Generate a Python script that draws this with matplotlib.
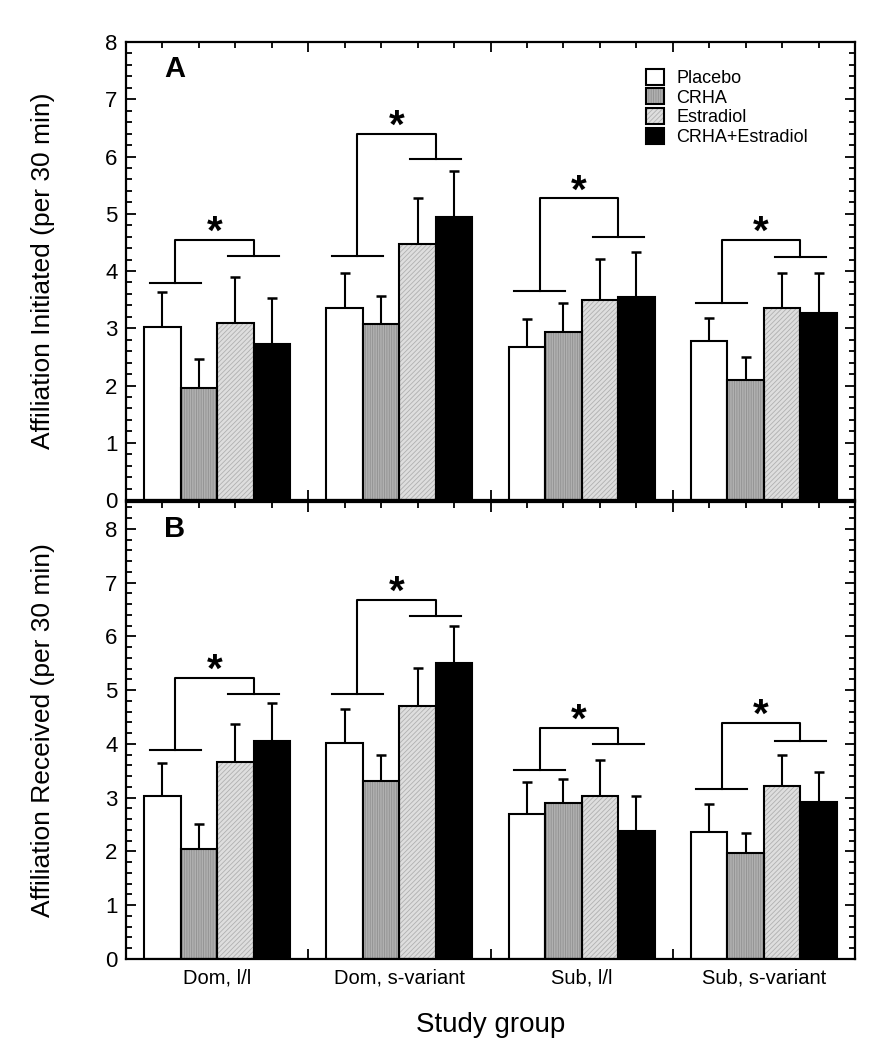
import numpy as np
import matplotlib
matplotlib.use("Agg")
import matplotlib.pyplot as plt
from matplotlib.patches import Patch
from matplotlib.legend_handler import HandlerTuple
from matplotlib.ticker import MultipleLocator

plt.rcParams['font.family'] = ['Liberation Sans', 'DejaVu Sans']
plt.rcParams['hatch.linewidth'] = 0.6

groups = ['Dom, l/l', 'Dom, s-variant', 'Sub, l/l', 'Sub, s-variant']
treatments = ['Placebo', 'CRHA', 'Estradiol', 'CRHA+Estradiol']

# panel A: affiliation initiated (mean, sem)
a_mean = {
    'Placebo':        [3.02, 3.35, 2.67, 2.77],
    'CRHA':           [1.96, 3.07, 2.93, 2.09],
    'Estradiol':      [3.09, 4.47, 3.49, 3.35],
    'CRHA+Estradiol': [2.73, 4.94, 3.54, 3.26],
}
a_sem = {
    'Placebo':        [0.61, 0.61, 0.49, 0.41],
    'CRHA':           [0.50, 0.49, 0.51, 0.41],
    'Estradiol':      [0.81, 0.80, 0.72, 0.61],
    'CRHA+Estradiol': [0.80, 0.80, 0.79, 0.70],
}
a_brk_left = [3.79, 4.26, 3.65, 3.44]
a_brk_right = [4.26, 5.95, 4.59, 4.24]
a_brk_top = [4.55, 6.40, 5.27, 4.55]

# panel B: affiliation received
b_mean = {
    'Placebo':        [3.03, 4.02, 2.70, 2.36],
    'CRHA':           [2.05, 3.31, 2.90, 1.97],
    'Estradiol':      [3.67, 4.71, 3.03, 3.22],
    'CRHA+Estradiol': [4.06, 5.51, 2.38, 2.92],
}
b_sem = {
    'Placebo':        [0.62, 0.63, 0.59, 0.52],
    'CRHA':           [0.46, 0.49, 0.45, 0.37],
    'Estradiol':      [0.70, 0.70, 0.67, 0.58],
    'CRHA+Estradiol': [0.70, 0.69, 0.65, 0.56],
}
b_brk_left = [3.89, 4.93, 3.52, 3.16]
b_brk_right = [4.93, 6.38, 4.00, 4.06]
b_brk_top = [5.23, 6.68, 4.30, 4.39]

# fill, hatch, hatch colour
styles = {
    'Placebo':        ('white', None, 'white'),
    'CRHA':           ('#b0b0b0', '|||||||', '#909090'),
    'Estradiol':      ('#dedede', '///////', '#b0b0b0'),
    'CRHA+Estradiol': ('black', None, 'black'),
}

W = 0.2
x0 = np.arange(len(groups))


def draw_panel(ax, means, sems, left, right, top, ymax, ylabel, letter):
    for k, t in enumerate(treatments):
        fc, hatch, hc = styles[t]
        xs = x0 + W * (k + 1)
        ax.bar(xs, means[t], W, color=fc, hatch=hatch, edgecolor=hc, linewidth=0, zorder=2)
        ax.bar(xs, means[t], W, facecolor='none', edgecolor='black', linewidth=1.5, zorder=3)
        err = np.array(sems[t])
        ax.errorbar(xs, means[t], yerr=[np.zeros_like(err), err], fmt='none', ecolor='black',
                    elinewidth=1.5, capsize=3.5, capthick=1.8, zorder=1)
    # significance brackets
    for i in range(len(groups)):
        lc, rc, hw = i + 0.27, i + 0.70, 0.14
        ax.plot([lc - hw, lc + hw], [left[i], left[i]], color='black', lw=1.5, zorder=4)
        ax.plot([rc - hw, rc + hw], [right[i], right[i]], color='black', lw=1.5, zorder=4)
        ax.plot([lc, lc, rc, rc], [left[i], top[i], top[i], right[i]], color='black', lw=1.5, zorder=4)
        ax.annotate('*', xy=(i + 0.485, top[i]), xytext=(0, -3), textcoords='offset points',
                    ha='center', va='baseline', fontsize=29, fontweight='bold')
    ax.set_xlim(0, 4)
    ax.set_ylim(0, ymax)
    ax.set_xticks(x0.tolist() + [4])
    ax.set_xticks([i + W * (k + 1) for i in x0 for k in range(4)], minor=True)
    ax.set_xticklabels([])
    ax.yaxis.set_major_locator(MultipleLocator(1))
    ax.yaxis.set_minor_locator(MultipleLocator(0.2))
    ax.tick_params(which='both', direction='in', top=True, right=True, width=1.3)
    ax.tick_params(which='major', length=7, labelsize=16, pad=6)
    ax.tick_params(which='minor', length=4)
    for s in ax.spines.values():
        s.set_linewidth(1.6)
    ax.set_ylabel(ylabel, fontsize=19)
    ax.yaxis.set_label_coords(-0.098, 0.5)
    ax.text(0.052, 0.94, letter, transform=ax.transAxes, fontsize=21, fontweight='bold',
            ha='left', va='center')


fig = plt.figure(figsize=(8.9, 10.5), dpi=100)
ax_a = fig.add_axes([0.1416, 0.5238, 0.8191, 0.4362])
ax_b = fig.add_axes([0.1416, 0.0867, 0.8191, 0.4352])

draw_panel(ax_a, a_mean, a_sem, a_brk_left, a_brk_right, a_brk_top, 8,
           'Affiliation Initiated (per 30 min)', 'A')
draw_panel(ax_b, b_mean, b_sem, b_brk_left, b_brk_right, b_brk_top, 8.5,
           'Affiliation Received (per 30 min)', 'B')
ax_b.set_yticks(range(0, 9))

for i, g in enumerate(groups):
    ax_b.text(i + 0.5, -0.042, g, transform=ax_b.get_xaxis_transform(), ha='center', va='center',
              fontsize=14.5, family=['Liberation Sans Narrow', 'Liberation Sans', 'DejaVu Sans'])
ax_b.text(0.5, -0.145, 'Study group', transform=ax_b.transAxes, ha='center', va='center',
          fontsize=20, family=['Liberation Sans Narrow', 'Liberation Sans', 'DejaVu Sans'])

handles = []
for t in treatments:
    fc, hatch, hc = styles[t]
    h1 = Patch(facecolor=fc, hatch=hatch, edgecolor=hc, linewidth=0)
    h2 = Patch(facecolor='none', edgecolor='black', linewidth=1.5)
    handles.append((h1, h2))
ax_a.legend(handles, treatments, handler_map={tuple: HandlerTuple(ndivide=1)},
            loc='upper left', bbox_to_anchor=(0.713, 0.942), frameon=False, fontsize=13,
            handlelength=1.0, handleheight=1.0, handletextpad=0.7, labelspacing=0.08,
            borderpad=0, borderaxespad=0)

fig.savefig('out.png', dpi=100)
